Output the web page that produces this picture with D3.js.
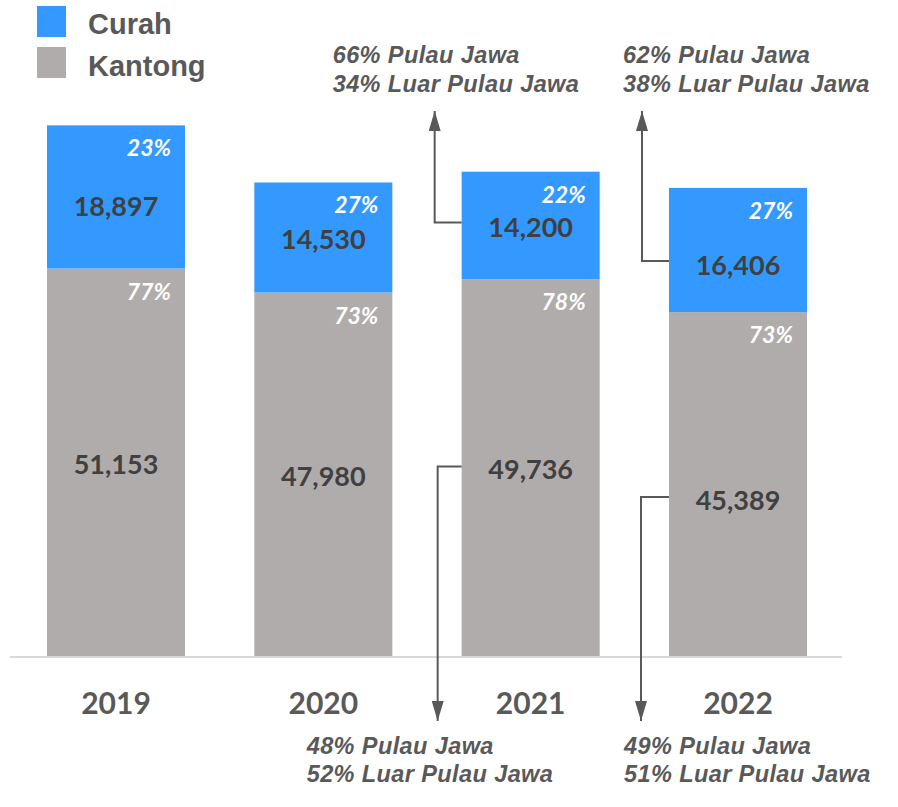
<!DOCTYPE html>
<html><head><meta charset="utf-8">
<script src="https://cdn.jsdelivr.net/npm/d3@7"></script>
<style>html,body{margin:0;padding:0;background:#fff;}</style>
</head><body>
<svg id="chart" width="898" height="807"></svg>
<script>
const years = ["2019", "2020", "2021", "2022"];
const kantong = [51153, 47980, 49736, 45389];
const curah = [18897, 14530, 14200, 16406];
const kantongPct = ["77%", "73%", "78%", "73%"];
const curahPct = ["23%", "27%", "22%", "27%"];
const seriesNames = ["Curah", "Kantong"];
const curahNotes = [null, null, ["66% Pulau Jawa", "34% Luar Pulau Jawa"], ["62% Pulau Jawa", "38% Luar Pulau Jawa"]];
const kantongNotes = [null, null, ["48% Pulau Jawa", "52% Luar Pulau Jawa"], ["49% Pulau Jawa", "51% Luar Pulau Jawa"]];

// layout constants (label nudges and note text offsets, per bar)
const curahShift = [10, 2, 2, 16];
const kantongShift = [2, 2, 2, 16];
const upperNoteDx = [0, 0, -129, -46];
const lowerNoteDx = [0, 0, -155, -45];

const BLUE = "#3399FF", GRAY = "#B0ACAB", DARK = "#404040", MID = "#595959";
const svg = d3.select("#chart");

const x = d3.scaleBand().domain(years).range([10, 844]).paddingInner(0.3344).paddingOuter(0.1785);
const y = d3.scaleLinear().domain([0, 80000]).range([656, 50]);

const data = years.map((yr, i) => ({yr, i, k: kantong[i], c: curah[i]}));

const defs = svg.append("defs");
defs.append("marker").attr("id", "arr").attr("viewBox", "0 0 20 12")
  .attr("refX", 20).attr("refY", 6).attr("markerWidth", 20).attr("markerHeight", 12)
  .attr("markerUnits", "userSpaceOnUse").attr("orient", "auto")
  .append("path").attr("d", "M0,0 L20,6 L0,12 Z").attr("fill", MID);

const g = svg.append("g");
g.selectAll("rect.k").data(data).join("rect").attr("class", "k")
  .attr("x", d => x(d.yr)).attr("width", x.bandwidth())
  .attr("y", d => y(d.k)).attr("height", d => y(0) - y(d.k)).attr("fill", GRAY);
g.selectAll("rect.c").data(data).join("rect").attr("class", "c")
  .attr("x", d => x(d.yr)).attr("width", x.bandwidth())
  .attr("y", d => y(d.k + d.c)).attr("height", d => y(d.k) - y(d.k + d.c)).attr("fill", BLUE);

svg.append("line").attr("x1", x.range()[0]).attr("x2", x.range()[1] - 2)
  .attr("y1", y(0) + 1).attr("y2", y(0) + 1).attr("stroke", "#D9D9D9").attr("stroke-width", 2);

svg.selectAll("text.yr").data(data).join("text").attr("class", "yr")
  .attr("x", d => x(d.yr) + x.bandwidth() / 2).attr("y", 714)
  .attr("text-anchor", "middle").attr("font-family", "Lato, sans-serif").attr("font-weight", 700)
  .attr("font-size", 30).attr("fill", MID).text(d => d.yr);

const fmt = d3.format(",");
const kY = d => (y(0) + y(d.k)) / 2 + kantongShift[d.i];
const cY = d => (y(d.k) + y(d.k + d.c)) / 2 + curahShift[d.i];
svg.selectAll("text.vk").data(data).join("text").attr("class", "vk")
  .attr("x", d => x(d.yr) + x.bandwidth() / 2).attr("y", kY)
  .attr("dy", "0.35em").attr("text-anchor", "middle").attr("font-family", "Lato, sans-serif")
  .attr("font-weight", 700).attr("font-size", 27).attr("fill", DARK).text(d => fmt(d.k));
svg.selectAll("text.vc").data(data).join("text").attr("class", "vc")
  .attr("x", d => x(d.yr) + x.bandwidth() / 2).attr("y", cY)
  .attr("dy", "0.35em").attr("text-anchor", "middle").attr("font-family", "Lato, sans-serif")
  .attr("font-weight", 700).attr("font-size", 27).attr("fill", DARK).text(d => fmt(d.c));

svg.selectAll("text.pk").data(data).join("text").attr("class", "pk")
  .attr("x", d => x(d.yr) + x.bandwidth() - 14).attr("y", d => y(d.k) + 31)
  .attr("text-anchor", "end").attr("font-family", "Lato, sans-serif").attr("font-weight", 700)
  .attr("font-style", "italic").attr("font-size", 23).attr("fill", "#fff").text(d => kantongPct[d.i]);
svg.selectAll("text.pc").data(data).join("text").attr("class", "pc")
  .attr("x", d => x(d.yr) + x.bandwidth() - 14).attr("y", d => y(d.k + d.c) + 31)
  .attr("text-anchor", "end").attr("font-family", "Lato, sans-serif").attr("font-weight", 700)
  .attr("font-style", "italic").attr("font-size", 23).attr("fill", "#fff").text(d => curahPct[d.i]);

const noteFont = sel => sel.attr("font-family", "'Liberation Sans', Arial, sans-serif")
  .attr("font-weight", 700).attr("font-style", "italic").attr("font-size", 23.5)
  .attr("letter-spacing", 0.4).attr("fill", MID);

data.forEach(d => {
  const bx = x(d.yr);
  if (curahNotes[d.i]) {
    const ax = bx - 27;
    const ly = cY(d) - 5;
    svg.append("path").attr("d", `M${bx},${ly} H${ax} V111`).attr("fill", "none")
      .attr("stroke", MID).attr("stroke-width", 2).attr("marker-end", "url(#arr)");
    const t = svg.append("text").call(noteFont);
    curahNotes[d.i].forEach((s, j) => t.append("tspan").attr("x", bx + upperNoteDx[d.i]).attr("y", 63 + j * 29).text(s));
  }
  if (kantongNotes[d.i]) {
    const ax = bx - (d.i === 2 ? 24 : 28);
    const ly = kY(d) - 3;
    svg.append("path").attr("d", `M${bx},${ly} H${ax} V721`).attr("fill", "none")
      .attr("stroke", MID).attr("stroke-width", 2).attr("marker-end", "url(#arr)");
    const t = svg.append("text").call(noteFont);
    kantongNotes[d.i].forEach((s, j) => t.append("tspan").attr("x", bx + lowerNoteDx[d.i]).attr("y", 754 + j * 28).text(s));
  }
});

const leg = svg.append("g");
seriesNames.forEach((n, j) => {
  leg.append("rect").attr("x", 37).attr("y", 6 + j * 41).attr("width", 29).attr("height", 31)
    .attr("fill", j === 0 ? BLUE : GRAY);
  leg.append("text").attr("x", 88).attr("y", 34 + j * 42)
    .attr("font-family", "'Liberation Sans', Arial, sans-serif").attr("font-weight", 700)
    .attr("font-size", 29).attr("fill", MID).text(n);
});
</script>
</body></html>
